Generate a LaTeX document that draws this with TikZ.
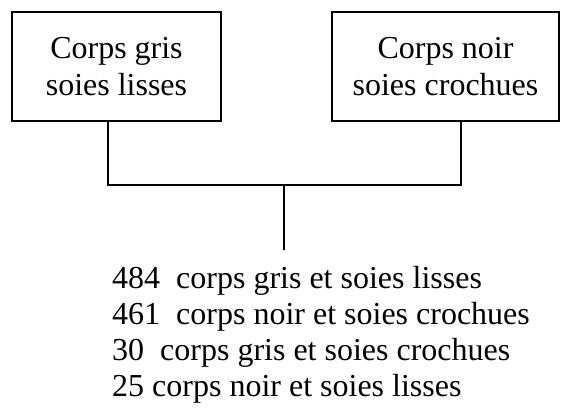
\documentclass[tikz,border=0pt]{standalone}
\usepackage{fontspec}
\setmainfont{Liberation Serif}
\begin{document}
\begin{tikzpicture}[x=1pt,y=-1pt,
  box/.style={draw,line width=1.4pt,inner sep=0pt,align=center,font=\fontsize{32}{37.5}\selectfont},
  res/.style={anchor=base west,inner sep=0pt,font=\fontsize{32}{37}\selectfont},
  conn/.style={line width=1.4pt}]
\useasboundingbox (0,0) rectangle (561,410);
\node[box,minimum width=209pt,minimum height=109pt] (lb) at (116.5,66.5) {Corps gris\\soies lisses};
\node[box,minimum width=227pt,minimum height=109pt] (rb) at (445.5,66.5) {Corps noir\\soies crochues};
\coordinate (j) at (284,185);
\coordinate (e) at (284,250);
\draw[conn] ([xshift=-8.5pt]lb.south) |- (j) -| ([xshift=15.5pt]rb.south);
\draw[conn] (j) -- (e);
\node[res] (r1) at (112,288.5) {484\ \ corps gris et soies lisses};
\node[res] (r2) at (112,324.5) {461\ \ corps noir et soies crochues};
\node[res] (r3) at (112,360) {30\ \ corps gris et soies crochues};
\node[res] (r4) at (112,396.5) {25 corps noir et soies lisses};
\end{tikzpicture}
\end{document}
